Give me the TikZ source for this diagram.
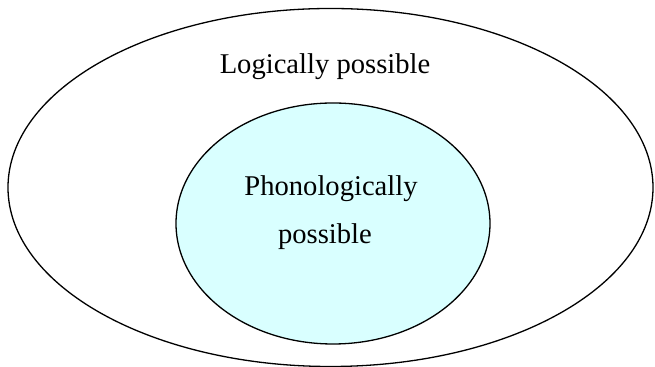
\documentclass[tikz,border=0pt]{standalone}
\usepackage{fontspec}
\setmainfont{Liberation Serif}
\usetikzlibrary{shapes.geometric}
\definecolor{lightcyanfill}{RGB}{217,255,255}
\tikzset{
  setshape/.style={ellipse, draw=black, line width=0.65pt, inner sep=0pt, outer sep=0pt},
  lbl/.style={anchor=base, inner sep=0pt, font=\fontsize{14.3}{17}\selectfont}
}
\begin{document}
\begin{tikzpicture}[x=0.5pt,y=-0.5pt]
\useasboundingbox (0,0) rectangle (655,367);
\node[setshape, minimum width=322.5pt, minimum height=179pt] (outer) at (330.5,187.5) {};
\node[setshape, fill=lightcyanfill, minimum width=157pt, minimum height=120.5pt] (inner) at (333,223.5) {};
\node[lbl] (logical) at (325,74) {Logically possible};
\node[lbl] (phon1) at (331,196) {Phonologically};
\node[lbl] (phon2) at (325,244) {possible};
\end{tikzpicture}
\end{document}
